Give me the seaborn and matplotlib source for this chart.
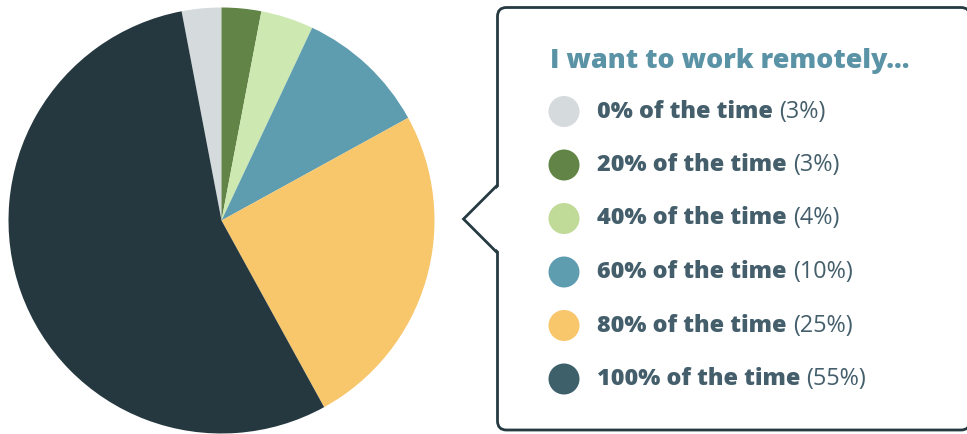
import matplotlib
matplotlib.use("Agg")
import matplotlib.pyplot as plt
from matplotlib.patches import FancyBboxPatch, Polygon, Circle
import seaborn as sns

# Survey answers: share of respondents by how much of the time they want to work remotely
labels = ["0% of the time", "20% of the time", "40% of the time",
          "60% of the time", "80% of the time", "100% of the time"]
shares = [3, 3, 4, 10, 25, 55]
pie_colors = ["#d5dadd", "#628446", "#cde8b0", "#5e9db0", "#f8c66b", "#253840"]
dot_colors = ["#d5dadd", "#628446", "#c0da98", "#5e9db0", "#f8c66b", "#3e606b"]
title = "I want to work remotely..."

sns.set_theme(style="white")
plt.rcParams["font.family"] = ["Open Sans", "DejaVu Sans"]

W, H = 967, 434
fig = plt.figure(figsize=(W / 100, H / 100), dpi=100)

# Pie: the first slice ends at 12 o'clock and the rest run clockwise
cx, cy, r = 221.5, 220.5, 213.0
ax = fig.add_axes([(cx - r) / W, (H - cy - r) / H, 2 * r / W, 2 * r / H])
ax.pie(shares, colors=pie_colors, startangle=90 + shares[0] * 3.6,
       counterclock=False, radius=1.0,
       wedgeprops=dict(linewidth=0, antialiased=True))
ax.set_xlim(-1, 1)
ax.set_ylim(-1, 1)
ax.set_aspect("equal")
ax.axis("off")

# Overlay in pixel coordinates for the callout legend
ov = fig.add_axes([0, 0, 1, 1])
ov.set_xlim(0, W)
ov.set_ylim(H, 0)
ov.axis("off")

border = "#263a42"
bx0, by0, bx1, by1 = 497.5, 7.5, 970, 430
box = FancyBboxPatch((bx0, by0), bx1 - bx0, by1 - by0,
                     boxstyle="round,pad=0,rounding_size=9",
                     facecolor="white", edgecolor=border, linewidth=2.0,
                     mutation_aspect=1, zorder=2)
ov.add_patch(box)

# Pointer toward the pie
tip_x, tip_y, half = 463.5, 219, 34
ov.add_patch(Polygon([(bx0 + 2, tip_y - half + 1), (tip_x + 1, tip_y),
                      (bx0 + 2, tip_y + half - 1)],
                     closed=True, facecolor="white", edgecolor="none", zorder=3))
ov.plot([bx0, tip_x, bx0], [tip_y - half, tip_y, tip_y + half],
        color=border, linewidth=2.0, solid_joinstyle="miter",
        solid_capstyle="butt", zorder=4)

ov.text(550, 60.5, title, fontsize=19.4, fontweight="heavy", color="#5b93a6",
        ha="left", va="center", zorder=5)

text_color = "#445f6b"
row_y0, row_step = 111.5, 53.5
for i, (lab, val, c) in enumerate(zip(labels, shares, dot_colors)):
    y = row_y0 + i * row_step
    ov.add_patch(Circle((564, y), 15.5, facecolor=c, edgecolor="none", zorder=5))
    t = ov.text(597, y, lab + " ", fontsize=16.8, fontweight="heavy",
                color=text_color, ha="left", va="center", zorder=5)
    ov.annotate(f"({val}%)", xycoords=t, xy=(1, 0.5), va="center", ha="left",
                fontsize=16.8, color=text_color, zorder=5)

fig.savefig("out.png", dpi=100, facecolor="white")
